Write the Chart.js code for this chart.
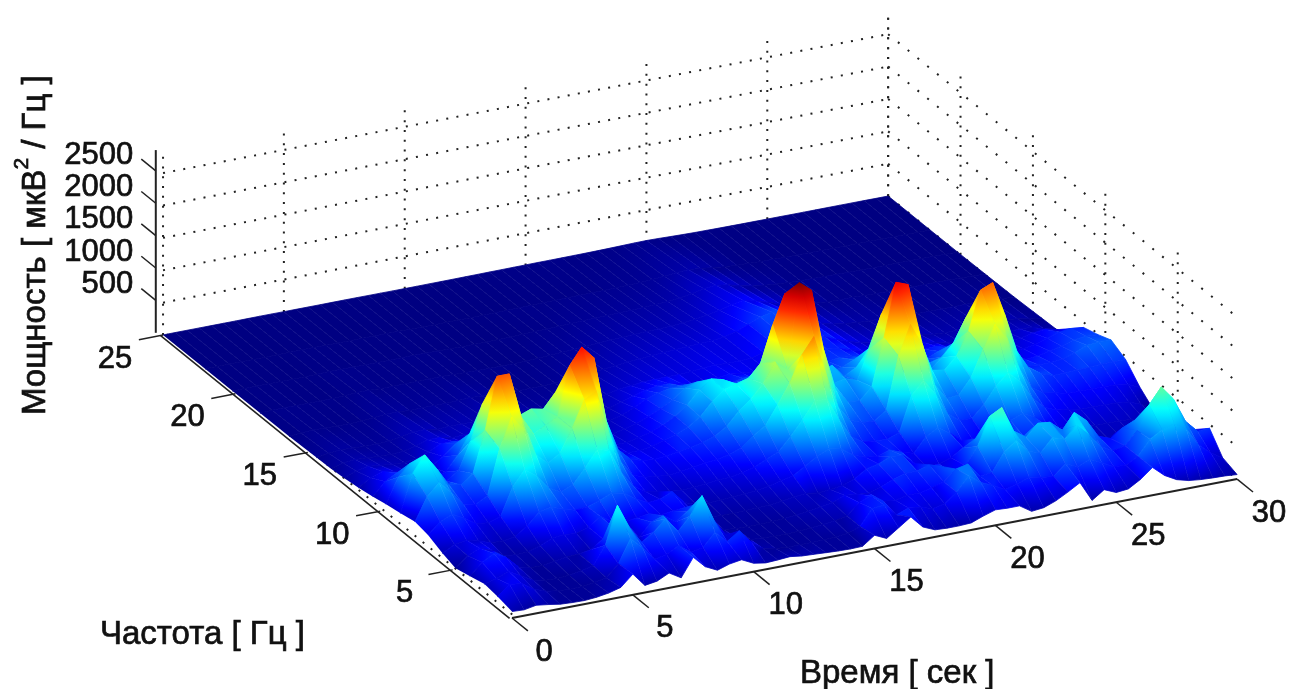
<!DOCTYPE html>
<html>
<head>
<meta charset="utf-8">
<title>Спектрограмма</title>
<script src="https://cdn.jsdelivr.net/npm/chart.js@4/dist/chart.umd.min.js"></script>
<style>
html, body { margin: 0; padding: 0; background: #fff; }
canvas { display: block; }
</style>
</head>
<body>
<canvas id="surfaceChart" width="1293" height="689"></canvas>
<script>
// time axis of the surface, one column every 0.5 s
const times = [0, 0.5, 1, 1.5, 2, 2.5, 3, 3.5, 4, 4.5, 5, 5.5, 6, 6.5, 7, 7.5, 8, 8.5, 9, 9.5,
    10, 10.5, 11, 11.5, 12, 12.5, 13, 13.5, 14, 14.5, 15, 15.5, 16, 16.5, 17, 17.5, 18, 18.5, 19, 19.5,
    20, 20.5, 21, 21.5, 22, 22.5, 23, 23.5, 24, 24.5, 25, 25.5, 26, 26.5, 27, 27.5, 28, 28.5, 29, 29.5, 30];

const freqs = [0.9, 1.9, 2.8, 3.8, 4.8, 5.7, 6.7, 7.6, 8.6, 9.6, 10.5, 11.5, 12.5, 13.4, 14.4, 16.3, 18.3, 20.2, 22.1, 25];

// power, one list per frequency
const powerF01 = [100,90,125,100,70,60,55,70,100,150, 320,110,140,230,120,400,220,130,190,220,
    130,100,110,125,100,90,80,70,65,70, 205,120,250,380,190,110,100,100,110,180,
    240,230,230,110,130,200,300,410,100,230, 150,170,280,430,270,170,120,100,90,85, 70];
const powerF02 = [150,300,280,160,90,60,50,55,80,120, 300,650,480,260,300,400,260,300,500,320,
    450,240,100,70,55,55,55,60,70,90, 160,400,420,230,300,280,220,260,400,620,
    480,400,300,350,420,380,360,520,440,520, 430,330,320,420,650,760,820,700,420,260, 150];
const powerF03 = [180,230,300,200,100,60,50,65,100,140, 420,1000,620,360,480,650,420,620,900,480,
    220,120,80,70,60,60,65,80,100,120, 160,330,400,280,260,300,300,340,400,560,
    600,380,400,680,820,620,560,760,700,880, 700,480,380,420,620,980,1220,1000,620,430, 440];
const powerF04 = [120,300,400,300,120,70,70,100,130,140, 170,300,420,350,220,420,480,350,480,560,
    200,90,70,65,65,70,80,100,120,150, 180,260,240,220,280,360,420,420,480,420,
    280,360,620,1050,1150,750,620,800,780,620, 860,700,420,350,480,560,560,420,300,300, 240];
const powerF05 = [60,220,300,230,110,90,100,160,240,260, 240,300,430,320,280,300,330,280,300,320,
    140,100,90,90,95,100,110,130,160,180, 150,170,190,260,380,420,500,480,320,230,
    240,300,420,520,500,400,380,420,520,500, 340,260,200,150,130,130,130,130,130,120, 70];
const powerF06 = [130,230,260,210,150,140,170,300,480,520, 450,400,420,480,560,520,400,300,320,400,
    200,130,120,130,140,150,170,200,250,290, 400,520,600,560,430,360,340,400,330,280,
    500,600,480,330,280,280,380,500,570,480, 330,250,230,190,170,170,170,160,140,100, 40];
const powerF07 = [230,400,480,380,260,240,300,720,950,820, 600,500,580,800,1050,1000,620,380,260,220,
    190,170,180,200,220,230,260,310,400,480, 680,900,1150,1150,800,500,380,360,350,420,
    950,1150,900,560,430,420,600,850,1020,850, 560,380,300,280,240,240,240,230,210,140, 30];
const powerF08 = [270,620,800,620,400,360,460,1150,1600,1400, 950,780,900,1250,1650,1750,1100,600,350,280,
    260,240,260,290,320,340,380,450,600,720, 1000,1300,1700,1950,1350,800,550,480,470,600,
    1400,1850,1500,850,600,620,850,1250,1600,1350, 850,520,400,370,320,320,320,320,310,280, 200];
const powerF09 = [220,800,1050,800,520,480,620,1250,2050,2050, 1350,1050,1150,1250,2000,2250,2050,1050,560,380,
    320,300,320,350,380,420,480,600,800,950, 1150,1450,1300,2600,2450,1500,850,620,600,780,
    1500,2320,2250,1350,850,820,1000,1350,1950,2030, 1500,900,600,480,420,420,430,440,450,450, 450];
const powerF10 = [180,560,740,600,400,360,480,900,1450,1450, 1050,1150,1220,1180,1400,1550,1250,720,400,300,
    260,260,290,340,400,480,600,800,950,1000, 1050,1250,1800,2250,1650,1050,700,720,760,700,
    1150,1650,1550,950,650,640,800,1000,1350,1420, 1050,650,480,420,400,400,420,480,560,570, 570];
const powerF11 = [130,330,430,350,260,240,300,520,820,820, 650,700,720,680,800,880,720,420,280,230,
    220,220,260,310,380,480,620,820,950,900, 800,760,1000,1150,950,700,620,750,800,600,
    700,950,900,600,480,480,550,600,780,820, 620,400,340,320,320,340,380,420,480,500, 490];
const powerF12 = [90,210,270,230,190,170,200,320,480,480, 380,400,400,390,460,510,420,270,200,170,
    160,170,210,260,330,420,520,660,720,680, 600,560,600,650,560,470,440,500,520,470,
    520,600,580,460,380,360,380,400,480,500, 400,290,250,240,250,270,300,360,420,440, 420];
const powerF13 = [60,130,170,150,130,120,140,210,300,300, 240,250,250,250,290,320,270,190,150,130,
    120,130,160,210,290,380,440,480,480,440, 310,320,380,420,370,340,330,380,400,420,
    430,450,440,380,320,290,290,290,330,340, 280,210,190,190,190,200,220,260,280,240, 120];
const powerF14 = [40,90,110,100,90,85,95,140,200,200, 160,170,170,170,190,220,190,140,110,95,
    90,95,120,150,210,270,320,350,350,320, 260,270,300,320,300,290,290,340,380,410,
    420,420,400,340,280,240,220,220,240,240, 200,160,140,130,130,140,150,160,150,90, 50];
const powerF15 = [30,60,80,70,60,60,70,100,140,140, 110,120,120,120,130,150,130,100,80,70,
    70,70,90,110,150,190,210,230,240,240, 240,250,270,280,270,270,280,330,400,450,
    460,440,400,320,250,200,170,160,170,170, 140,110,100,100,100,100,110,120,100,60, 40];
const powerF16 = [15,30,40,35,30,30,35,50,70,70, 55,60,60,60,65,75,65,50,45,40,
    40,40,50,60,80,100,120,140,160,170, 190,200,210,220,230,240,260,310,380,460,
    500,450,370,270,190,140,110,90,80,80, 70,55,50,50,50,50,50,50,45,30, 20];
const powerF18 = [10,18,22,20,18,18,20,28,40,40, 30,32,32,32,35,40,35,28,25,22,
    22,22,28,35,45,55,65,75,90,100, 110,120,125,130,140,150,170,200,240,290,
    320,280,220,160,110,85,65,50,45,45, 40,32,30,30,28,28,28,26,24,18, 12];
const powerF20 = [6,10,12,11,10,10,12,16,22,22, 18,18,18,18,20,22,20,16,14,12,
    12,12,15,18,24,30,35,40,48,55, 60,65,70,75,80,90,100,120,150,190,
    210,180,130,90,65,50,38,30,26,24, 22,18,16,16,15,15,15,14,13,10, 6];
const powerF22 = [4,6,7,6,6,6,7,9,12,12, 10,10,10,10,11,12,11,9,8,7,
    7,7,8,10,12,15,18,20,24,28, 30,32,34,36,40,45,50,60,75,95,
    105,90,65,45,32,25,18,15,13,12, 11,9,8,8,8,8,8,7,7,5, 3];
const powerF25 = [2,3,3,3,3,3,3,4,5,5, 4,4,4,4,5,5,5,4,4,3,
    3,3,4,4,5,6,7,8,9,10, 11,12,12,13,14,15,17,20,24,28,
    30,26,20,15,11,9,7,6,5,5, 4,4,3,3,3,3,3,3,3,2, 2];

const powerRows = [powerF01, powerF02, powerF03, powerF04, powerF05, powerF06, powerF07, powerF08, powerF09, powerF10,
    powerF11, powerF12, powerF13, powerF14, powerF15, powerF16, powerF18, powerF20, powerF22, powerF25];

const timeTicks = [0, 5, 10, 15, 20, 25, 30];
const freqTicks = [5, 10, 15, 20, 25];
const powerTicks = [500, 1000, 1500, 2000, 2500];

const timeMax = 30;
const freqMin = 0.9;
const freqMax = 25;
const powerTop = 2820;
const powerMax = 2600;

// oblique view, same one for every mark
function project(t, f, z) {
    return {
        x: 512 + 24.17 * t - 14.48 * (f - freqMin),
        y: 618 - 4.63 * t - 11.74 * (f - freqMin) - 0.0648 * z
    };
}

function jet(v) {
    const c = x => Math.round(255 * Math.max(0, Math.min(1, x)));
    const r = c(Math.min(4 * v - 1.5, -4 * v + 4.5));
    const g = c(Math.min(4 * v - 0.5, -4 * v + 3.5));
    const b = c(Math.min(4 * v + 0.5, -4 * v + 2.5));
    return `rgb(${r},${g},${b})`;
}

// fill of one surface cell: the colour map runs from its highest to its lowest corner
function cellFill(ctx) {
    const cell = ctx.dataset.cell;
    const chart = ctx.chart;
    const high = cell.high, low = cell.low;
    const vHigh = high.z / powerMax, vLow = low.z / powerMax;
    const x0 = chart.scales.x.getPixelForValue(high.x), y0 = chart.scales.y.getPixelForValue(high.y);
    const x1 = chart.scales.x.getPixelForValue(low.x), y1 = chart.scales.y.getPixelForValue(low.y);
    // scales have no size yet on the first pass
    if (vHigh - vLow < 0.01 || ![x0, y0, x1, y1].every(Number.isFinite)) return jet((vHigh + vLow) / 2);
    const g = chart.ctx.createLinearGradient(x0, y0, x1, y1);
    for (let i = 0; i <= 6; i++) {
        g.addColorStop(i / 6, jet(vHigh + (vLow - vHigh) * i / 6));
    }
    return g;
}

function surfaceCell(i, j) {
    const corners = [[i, j], [i, j + 1], [i + 1, j + 1], [i + 1, j]].map(([a, b]) => {
        const z = powerRows[a][b];
        return { ...project(times[b], freqs[a], z), z: z };
    });
    const sorted = [...corners].sort((p, q) => q.z - p.z);
    return {
        data: corners.map(p => ({ x: p.x, y: p.y })),
        cell: { high: sorted[0], low: sorted[3] },
        showLine: true,
        fill: "shape",
        backgroundColor: cellFill,
        borderColor: cellFill,
        borderWidth: 0.8,
        pointRadius: 0
    };
}

function dotted(points, gap) {
    return {
        data: points,
        showLine: true,
        fill: false,
        borderColor: "#222",
        borderWidth: 2,
        borderDash: [2, gap],
        pointRadius: 0
    };
}

function solid(points, width) {
    return {
        data: points,
        showLine: true,
        fill: false,
        borderColor: "#222",
        borderWidth: width,
        pointRadius: 0
    };
}

const paintOrder = [];

// walls behind the surface
timeTicks.forEach(t => paintOrder.push(dotted([project(t, freqMax, 0), project(t, freqMax, powerTop)], 7.8)));
freqTicks.forEach(f => paintOrder.push(dotted([project(timeMax, f, 0), project(timeMax, f, powerTop)], 7.8)));
powerTicks.forEach(z => {
    paintOrder.push(dotted([project(0, freqMax, z), project(timeMax, freqMax, z)], 8.3));
    paintOrder.push(dotted([project(timeMax, freqMax, z), project(timeMax, freqMin, z)], 10.6));
});
paintOrder.push(dotted([project(0.15, freqMax, 0), project(0.15, freqMin, 0)], 8.3));
paintOrder.push(dotted([project(timeMax, freqMax, 0), project(timeMax, freqMin, 0)], 10.6));

// surface, far cells first
for (let i = freqs.length - 2; i >= 0; i--) {
    for (let j = times.length - 2; j >= 0; j--) {
        paintOrder.push(surfaceCell(i, j));
    }
}

// axes and tick marks
paintOrder.push(solid([project(0, freqMin, 0), project(timeMax, freqMin, 0)], 2));
paintOrder.push(solid([project(-0.1, freqMin, 0), project(-0.1, freqMax, 0)], 1.6));
paintOrder.push(solid([project(-0.15, 25.25, 0), project(-0.15, 25.25, powerTop)], 2));
timeTicks.forEach(t => paintOrder.push(solid([project(t, freqMin, 0), project(t, freqMin - 1.1, 0)], 1.5)));
freqTicks.forEach(f => paintOrder.push(solid([project(0, f, 0), project(-1, f, 0)], 1.5)));
powerTicks.forEach(z => paintOrder.push(solid([project(-0.15, 25.25, z), project(-0.15, 26.25, z)], 1.5)));

function heavyText(c, text, x, y) {
    c.fillText(text, x, y);
    c.strokeText(text, x, y);
}

const textPlugin = {
    id: "axisText",
    afterDatasetsDraw(chart) {
        const c = chart.ctx;
        const px = v => chart.scales.x.getPixelForValue(v);
        const py = v => chart.scales.y.getPixelForValue(v);
        c.save();
        c.fillStyle = "#111";
        c.strokeStyle = "#111";
        c.lineWidth = 0.7;
        c.textBaseline = "middle";
        c.font = "31px 'Liberation Sans'";

        c.textAlign = "right";
        powerTicks.forEach(z => {
            const p = project(-0.15, 26.25, z);
            heavyText(c, String(z), px(p.x) - 8, py(p.y) - 4);
        });
        c.textAlign = "center";
        freqTicks.forEach(f => {
            const p = project(0, f, 0);
            heavyText(c, String(f), px(p.x) - 48, py(p.y) + 24);
        });
        timeTicks.forEach(t => {
            const p = project(t, freqMin, 0);
            heavyText(c, String(t), px(p.x) + 32, py(p.y) + 34);
        });

        c.textAlign = "left";
        c.textBaseline = "alphabetic";
        c.font = "33px 'Liberation Sans'";
        heavyText(c, "Частота [ Гц ]", 100, 644);
        heavyText(c, "Время [ сек ]", 800, 683);

        c.translate(45, 415);
        c.rotate(-Math.PI / 2);
        const first = "Мощность [ мкВ";
        heavyText(c, first, 0, 0);
        let left = c.measureText(first).width;
        c.font = "21px 'Liberation Sans'";
        heavyText(c, "2", left, -17);
        left += c.measureText("2").width;
        c.font = "33px 'Liberation Sans'";
        heavyText(c, " / Гц ]", left, 0);
        c.restore();
    }
};

new Chart(document.getElementById("surfaceChart"), {
    type: "scatter",
    data: { datasets: paintOrder.reverse() },
    options: {
        responsive: false,
        animation: false,
        events: [],
        layout: { padding: 0 },
        clip: false,
        scales: {
            x: { type: "linear", min: 0, max: 1293, display: false },
            y: { type: "linear", min: 0, max: 689, reverse: true, display: false }
        },
        plugins: {
            legend: { display: false },
            tooltip: { enabled: false }
        }
    },
    plugins: [textPlugin]
});
</script>
</body>
</html>
